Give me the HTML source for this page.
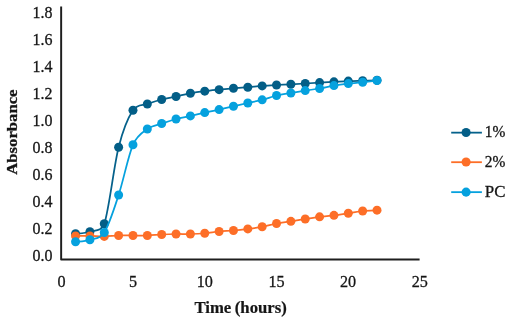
<!DOCTYPE html>
<html><head><meta charset="utf-8"><title>Absorbance chart</title><style>html,body{margin:0;padding:0;background:#fff}body{width:513px;height:324px;overflow:hidden}</style></head><body>
<svg width="513" height="324" viewBox="0 0 513 324" style="display:block;font-family:'Liberation Serif',serif">
<rect width="513" height="324" fill="#fff"/>
<path d="M61.15 6.6 V259.45 H419.6" fill="none" stroke="#1e1e1e" stroke-width="1.95" stroke-linejoin="round"/>
<text transform="translate(52.50 17.50) scale(0.940 1)" text-anchor="end" font-size="17" fill="#151515" stroke="#151515" stroke-width="0.3">1.8</text>
<text transform="translate(52.50 44.59) scale(0.940 1)" text-anchor="end" font-size="17" fill="#151515" stroke="#151515" stroke-width="0.3">1.6</text>
<text transform="translate(52.50 71.68) scale(0.940 1)" text-anchor="end" font-size="17" fill="#151515" stroke="#151515" stroke-width="0.3">1.4</text>
<text transform="translate(52.50 98.77) scale(0.940 1)" text-anchor="end" font-size="17" fill="#151515" stroke="#151515" stroke-width="0.3">1.2</text>
<text transform="translate(52.50 125.86) scale(0.940 1)" text-anchor="end" font-size="17" fill="#151515" stroke="#151515" stroke-width="0.3">1.0</text>
<text transform="translate(52.50 152.95) scale(0.940 1)" text-anchor="end" font-size="17" fill="#151515" stroke="#151515" stroke-width="0.3">0.8</text>
<text transform="translate(52.50 180.04) scale(0.940 1)" text-anchor="end" font-size="17" fill="#151515" stroke="#151515" stroke-width="0.3">0.6</text>
<text transform="translate(52.50 207.13) scale(0.940 1)" text-anchor="end" font-size="17" fill="#151515" stroke="#151515" stroke-width="0.3">0.4</text>
<text transform="translate(52.50 234.22) scale(0.940 1)" text-anchor="end" font-size="17" fill="#151515" stroke="#151515" stroke-width="0.3">0.2</text>
<text transform="translate(52.50 261.31) scale(0.940 1)" text-anchor="end" font-size="17" fill="#151515" stroke="#151515" stroke-width="0.3">0.0</text>
<text transform="translate(61.50 286.50) scale(0.950 1)" text-anchor="middle" font-size="17" fill="#151515" stroke="#151515" stroke-width="0.3">0</text>
<text transform="translate(133.15 286.50) scale(0.950 1)" text-anchor="middle" font-size="17" fill="#151515" stroke="#151515" stroke-width="0.3">5</text>
<text transform="translate(204.80 286.50) scale(0.950 1)" text-anchor="middle" font-size="17" fill="#151515" stroke="#151515" stroke-width="0.3">10</text>
<text transform="translate(276.45 286.50) scale(0.950 1)" text-anchor="middle" font-size="17" fill="#151515" stroke="#151515" stroke-width="0.3">15</text>
<text transform="translate(348.10 286.50) scale(0.950 1)" text-anchor="middle" font-size="17" fill="#151515" stroke="#151515" stroke-width="0.3">20</text>
<text transform="translate(419.75 286.50) scale(0.950 1)" text-anchor="middle" font-size="17" fill="#151515" stroke="#151515" stroke-width="0.3">25</text>
<text transform="translate(240.60 312.80) scale(1.058 1)" text-anchor="middle" font-size="15.8" font-weight="bold" fill="#151515" stroke="#151515" stroke-width="0.2" word-spacing="-0.6">Time (hours)</text>
<text transform="translate(17.00 132.10) rotate(-90) scale(1.090 1)" text-anchor="middle" font-size="15.3" font-weight="bold" fill="#151515" stroke="#151515" stroke-width="0.3">Absorbance</text>
<path d="M75.56 233.80 C77.95 233.46 85.12 233.42 89.91 231.75 C94.69 230.08 101.63 231.57 104.27 223.80 C109.05 209.71 113.84 166.12 118.62 147.20 C123.41 128.28 128.19 117.50 132.98 110.30 C137.31 103.77 142.54 105.80 147.33 104.00 C152.11 102.20 156.90 100.75 161.69 99.50 C166.47 98.25 171.26 97.53 176.04 96.50 C180.83 95.47 185.61 94.19 190.39 93.30 C195.18 92.41 199.97 91.76 204.75 91.15 C209.53 90.54 214.32 90.12 219.11 89.65 C223.89 89.18 228.67 88.71 233.46 88.30 C238.24 87.89 243.03 87.60 247.81 87.20 C252.60 86.80 257.38 86.27 262.17 85.90 C266.96 85.53 271.74 85.27 276.53 85.00 C281.31 84.73 286.10 84.55 290.88 84.30 C295.66 84.05 300.45 83.78 305.24 83.50 C310.02 83.22 314.80 82.88 319.59 82.60 C324.38 82.32 329.16 82.10 333.94 81.85 C338.73 81.60 343.51 81.29 348.30 81.10 C353.09 80.91 357.87 80.83 362.65 80.70 C367.44 80.57 374.62 80.37 377.01 80.30" fill="none" stroke="#05618B" stroke-width="1.75" stroke-linecap="round" stroke-linejoin="round"/>
<circle cx="75.56" cy="233.80" r="4.5" fill="#035E87"/><circle cx="89.91" cy="231.75" r="4.5" fill="#035E87"/><circle cx="104.27" cy="223.80" r="4.5" fill="#035E87"/><circle cx="118.62" cy="147.20" r="4.5" fill="#035E87"/><circle cx="132.98" cy="110.30" r="4.5" fill="#035E87"/><circle cx="147.33" cy="104.00" r="4.5" fill="#035E87"/><circle cx="161.69" cy="99.50" r="4.5" fill="#035E87"/><circle cx="176.04" cy="96.50" r="4.5" fill="#035E87"/><circle cx="190.39" cy="93.30" r="4.5" fill="#035E87"/><circle cx="204.75" cy="91.15" r="4.5" fill="#035E87"/><circle cx="219.11" cy="89.65" r="4.5" fill="#035E87"/><circle cx="233.46" cy="88.30" r="4.5" fill="#035E87"/><circle cx="247.81" cy="87.20" r="4.5" fill="#035E87"/><circle cx="262.17" cy="85.90" r="4.5" fill="#035E87"/><circle cx="276.53" cy="85.00" r="4.5" fill="#035E87"/><circle cx="290.88" cy="84.30" r="4.5" fill="#035E87"/><circle cx="305.24" cy="83.50" r="4.5" fill="#035E87"/><circle cx="319.59" cy="82.60" r="4.5" fill="#035E87"/><circle cx="333.94" cy="81.85" r="4.5" fill="#035E87"/><circle cx="348.30" cy="81.10" r="4.5" fill="#035E87"/><circle cx="362.65" cy="80.70" r="4.5" fill="#035E87"/><circle cx="377.01" cy="80.30" r="4.5" fill="#035E87"/>

<path d="M75.56 235.90 C77.95 235.90 85.12 235.82 89.91 235.90 C94.69 235.98 99.48 236.47 104.27 236.40 C109.05 236.33 113.84 235.65 118.62 235.50 C123.41 235.35 128.19 235.50 132.98 235.50 C137.76 235.50 142.54 235.67 147.33 235.50 C152.11 235.33 156.90 234.75 161.69 234.50 C166.47 234.25 171.26 234.08 176.04 234.00 C180.83 233.92 185.61 234.12 190.39 234.00 C195.18 233.88 199.97 233.67 204.75 233.25 C209.53 232.83 214.32 231.96 219.11 231.50 C223.89 231.04 228.67 230.93 233.46 230.50 C238.24 230.07 243.03 229.52 247.81 228.90 C252.60 228.28 257.38 227.70 262.17 226.80 C266.96 225.90 271.74 224.41 276.53 223.50 C281.31 222.59 286.10 222.10 290.88 221.35 C295.66 220.60 300.45 219.75 305.24 219.00 C310.02 218.25 314.80 217.46 319.59 216.85 C324.38 216.24 329.16 215.95 333.94 215.35 C338.73 214.75 343.51 213.97 348.30 213.25 C353.09 212.53 357.87 211.52 362.65 211.00 C367.44 210.48 374.62 210.29 377.01 210.15" fill="none" stroke="#FD6E27" stroke-width="1.75" stroke-linecap="round" stroke-linejoin="round"/>
<circle cx="75.56" cy="235.90" r="4.5" fill="#FD6E27"/><circle cx="89.91" cy="235.90" r="4.5" fill="#FD6E27"/><circle cx="104.27" cy="236.40" r="4.5" fill="#FD6E27"/><circle cx="118.62" cy="235.50" r="4.5" fill="#FD6E27"/><circle cx="132.98" cy="235.50" r="4.5" fill="#FD6E27"/><circle cx="147.33" cy="235.50" r="4.5" fill="#FD6E27"/><circle cx="161.69" cy="234.50" r="4.5" fill="#FD6E27"/><circle cx="176.04" cy="234.00" r="4.5" fill="#FD6E27"/><circle cx="190.39" cy="234.00" r="4.5" fill="#FD6E27"/><circle cx="204.75" cy="233.25" r="4.5" fill="#FD6E27"/><circle cx="219.11" cy="231.50" r="4.5" fill="#FD6E27"/><circle cx="233.46" cy="230.50" r="4.5" fill="#FD6E27"/><circle cx="247.81" cy="228.90" r="4.5" fill="#FD6E27"/><circle cx="262.17" cy="226.80" r="4.5" fill="#FD6E27"/><circle cx="276.53" cy="223.50" r="4.5" fill="#FD6E27"/><circle cx="290.88" cy="221.35" r="4.5" fill="#FD6E27"/><circle cx="305.24" cy="219.00" r="4.5" fill="#FD6E27"/><circle cx="319.59" cy="216.85" r="4.5" fill="#FD6E27"/><circle cx="333.94" cy="215.35" r="4.5" fill="#FD6E27"/><circle cx="348.30" cy="213.25" r="4.5" fill="#FD6E27"/><circle cx="362.65" cy="211.00" r="4.5" fill="#FD6E27"/><circle cx="377.01" cy="210.15" r="4.5" fill="#FD6E27"/>

<path d="M75.56 241.80 C77.95 241.47 85.12 241.35 89.91 239.80 C94.69 238.25 99.92 239.28 104.27 232.50 C109.05 225.03 113.84 209.62 118.62 195.00 C123.41 180.38 128.19 155.80 132.98 144.80 C137.23 135.01 142.54 132.54 147.33 129.00 C152.11 125.46 156.90 125.22 161.69 123.55 C166.47 121.88 171.26 120.28 176.04 119.00 C180.83 117.72 185.61 116.97 190.39 115.90 C195.18 114.83 199.97 113.65 204.75 112.60 C209.53 111.55 214.32 110.65 219.11 109.60 C223.89 108.55 228.67 107.40 233.46 106.30 C238.24 105.20 243.03 104.08 247.81 103.00 C252.60 101.92 257.38 101.10 262.17 99.85 C266.96 98.60 271.74 96.65 276.53 95.50 C281.31 94.35 286.10 93.77 290.88 92.95 C295.66 92.13 300.45 91.34 305.24 90.60 C310.02 89.86 314.80 89.33 319.59 88.50 C324.38 87.67 329.16 86.42 333.94 85.60 C338.73 84.78 343.51 84.17 348.30 83.60 C353.09 83.03 357.87 82.71 362.65 82.20 C367.44 81.69 374.62 80.83 377.01 80.55" fill="none" stroke="#05A1DE" stroke-width="1.75" stroke-linecap="round" stroke-linejoin="round"/>
<circle cx="75.56" cy="241.80" r="4.5" fill="#05A1DE"/><circle cx="89.91" cy="239.80" r="4.5" fill="#05A1DE"/><circle cx="104.27" cy="232.50" r="4.5" fill="#05A1DE"/><circle cx="118.62" cy="195.00" r="4.5" fill="#05A1DE"/><circle cx="132.98" cy="144.80" r="4.5" fill="#05A1DE"/><circle cx="147.33" cy="129.00" r="4.5" fill="#05A1DE"/><circle cx="161.69" cy="123.55" r="4.5" fill="#05A1DE"/><circle cx="176.04" cy="119.00" r="4.5" fill="#05A1DE"/><circle cx="190.39" cy="115.90" r="4.5" fill="#05A1DE"/><circle cx="204.75" cy="112.60" r="4.5" fill="#05A1DE"/><circle cx="219.11" cy="109.60" r="4.5" fill="#05A1DE"/><circle cx="233.46" cy="106.30" r="4.5" fill="#05A1DE"/><circle cx="247.81" cy="103.00" r="4.5" fill="#05A1DE"/><circle cx="262.17" cy="99.85" r="4.5" fill="#05A1DE"/><circle cx="276.53" cy="95.50" r="4.5" fill="#05A1DE"/><circle cx="290.88" cy="92.95" r="4.5" fill="#05A1DE"/><circle cx="305.24" cy="90.60" r="4.5" fill="#05A1DE"/><circle cx="319.59" cy="88.50" r="4.5" fill="#05A1DE"/><circle cx="333.94" cy="85.60" r="4.5" fill="#05A1DE"/><circle cx="348.30" cy="83.60" r="4.5" fill="#05A1DE"/><circle cx="362.65" cy="82.20" r="4.5" fill="#05A1DE"/><circle cx="377.01" cy="80.55" r="4.5" fill="#05A1DE"/>

<path d="M451.2 132.65 H481.9" stroke="#05618B" stroke-width="1.8"/>
<circle cx="466.1" cy="132.50" r="4.55" fill="#035E87"/>
<text transform="translate(484.80 137.30) scale(0.910 1)" text-anchor="start" font-size="17" fill="#151515" stroke="#151515" stroke-width="0.3">1%</text>
<path d="M451.2 162.20 H481.9" stroke="#FD6E27" stroke-width="1.8"/>
<circle cx="466.1" cy="162.05" r="4.55" fill="#FD6E27"/>
<text transform="translate(484.80 166.85) scale(0.910 1)" text-anchor="start" font-size="17" fill="#151515" stroke="#151515" stroke-width="0.3">2%</text>
<path d="M451.2 192.15 H481.9" stroke="#05A1DE" stroke-width="1.8"/>
<circle cx="466.1" cy="192.15" r="4.55" fill="#05A1DE"/>
<text transform="translate(484.80 196.80) scale(0.995 1)" text-anchor="start" font-size="17" fill="#151515" stroke="#151515" stroke-width="0.3">PC</text>
</svg>
</body></html>
